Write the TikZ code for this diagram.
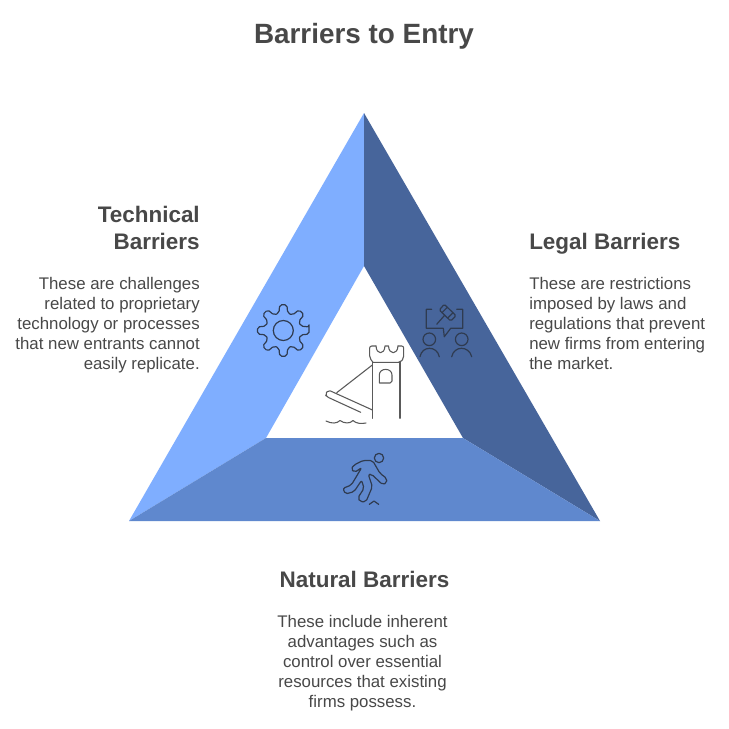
\documentclass[tikz,border=0pt]{standalone}
\usepackage{fontspec}
\setmainfont{Liberation Sans}
\definecolor{txt}{HTML}{484848}
\definecolor{leftc}{HTML}{7FAEFF}
\definecolor{rightc}{HTML}{47659B}
\definecolor{bottomc}{HTML}{5F88CE}
\definecolor{iconc}{HTML}{2F3B50}
\definecolor{towerc}{HTML}{5A5A5A}
\tikzset{
  titletext/.style={text=txt,font=\fontsize{20.9}{26}\selectfont\bfseries,inner sep=0pt},
  headtext/.style={text=txt,font=\fontsize{16.85}{20.25}\selectfont\bfseries,inner sep=0pt},
  bodytext/.style={text=txt,font=\fontsize{12.62}{15}\selectfont,inner sep=0pt},
  iconline/.style={draw=iconc,line width=0.9pt,line join=round,line cap=round},
  towerline/.style={draw=towerc,line width=0.8pt,line join=round,line cap=round},
}
\begin{document}
\begin{tikzpicture}[x=0.75pt,y=-0.75pt]
\useasboundingbox (0,0) rectangle (729,729);
\fill[white] (0,0) rectangle (729,729);
% triangle
\coordinate (apex) at (364,113);
\coordinate (br) at (600,521);
\coordinate (bl) at (129,521);
\coordinate (itop) at (364,266);
\coordinate (ir) at (463,438);
\coordinate (il) at (266,438);
\fill[leftc] (apex) -- (itop) -- (il) -- (bl) -- cycle;
\fill[rightc] (apex) -- (br) -- (ir) -- (itop) -- cycle;
\fill[bottomc] (bl) -- (il) -- (ir) -- (br) -- cycle;
% texts
\node[titletext] (title) at (364,36) {Barriers to Entry};
\node[headtext,anchor=north east,align=right] (techhead) at (200,206) {Technical\\Barriers};
\node[bodytext,anchor=north east,align=right] (techbody) at (200,277.5) {These are challenges\\related to proprietary\\technology or processes\\that new entrants cannot\\easily replicate.};
\node[headtext,anchor=north west,align=left] (leghead) at (529,233) {Legal Barriers};
\node[bodytext,anchor=north west,align=left] (legbody) at (529,277.5) {These are restrictions\\imposed by laws and\\regulations that prevent\\new firms from entering\\the market.};
\node[headtext] (nathead) at (364.5,579.5) {Natural Barriers};
\node[bodytext,anchor=north,align=center] (natbody) at (362.5,615.5) {These include inherent\\advantages such as\\control over essential\\resources that existing\\firms possess.};
% gear
\begin{scope}[shift={(283.3,330.5)}]
\draw[iconline] (0,0) circle (10);
\draw[iconline,rounded corners=1.5pt] (-8:26)
  \foreach \a in {0,45,...,315} {
    -- (\a+8:26) -- (\a+14:18) -- (\a+31:18) -- (\a+37:26)
  } -- cycle;
\end{scope}
% legal icon
\draw[iconline] (431.7,309.3) -- (426.3,309.3) -- (426.3,328.3) -- (443.3,328.3) -- (444.3,336.7) -- (450.7,328.3) -- (462.7,328.3) -- (462.7,309.3) -- (456.7,309.3);
\draw[iconline,rounded corners=1pt] (444.3,304.3) -- (456,315.7) -- (450.7,321) -- (439.3,310) -- cycle;
\draw[iconline] (447.3,307.3) -- (441.9,312.7);
\draw[iconline] (453,312.8) -- (447.7,318);
\draw[iconline] (436.7,324.3) -- (444.6,315.3);
\draw[iconline] (429.3,339.3) circle (6.3);
\draw[iconline] (461.7,339.3) circle (6.3);
\draw[iconline] (420,356.7) .. controls (422,345.5) and (437,345.5) .. (439.3,356.7);
\draw[iconline] (451.7,356.7) .. controls (454,345.5) and (469,345.5) .. (471.7,356.7);
% runner
\begin{scope}[shift={(330,445)},xscale=1/3,yscale=1/3]
\draw[iconline] (147,39) circle (14);
\draw[iconline,rounded corners=1.5pt] (63,72) -- (72,60) -- (100,46) -- (128,47) -- (150,85) -- (170,100) -- (170,114) -- (158,119) -- (125,88) -- (115,88) -- (127,125) -- (108,170) -- (90,170) -- (84,158) -- (102,130) -- (95,106) -- (72,140) -- (46,147) -- (39,130) -- (64,120) -- (95,68) -- (74,82) -- cycle;
\draw[iconline] (118,178) -- (132,168) -- (146,178);
\end{scope}
% tower
\draw[towerline,rounded corners=1.5pt] (373,362.3) -- (369.7,358) -- (369.7,346) -- (376,346);
\draw[towerline] (376,346) .. controls (376.5,355) and (384.5,355) .. (385,346) -- (388.5,346) .. controls (389,355) and (397.5,355) .. (398,346);
\draw[towerline,rounded corners=1.5pt] (398,346) -- (403.7,346) -- (403.7,358) -- (400.5,362.3) -- (373,362.3);
\draw[towerline] (372.7,362.3) -- (372.7,418.3) (400,362.3) -- (400,418.3);
\draw[towerline] (379.3,383) -- (379.3,375) .. controls (379.3,367.5) and (392,367.5) .. (392,375) -- (392,381) -- (390,383) -- cycle;
\draw[towerline] (372.3,365) -- (336.7,392.7);
\draw[towerline,rounded corners=1.5pt] (372.5,410) -- (328.3,390) -- (325.3,394.5) -- (326.7,396.7) -- (360.7,412.3);
\draw[towerline] (326,421) .. controls (332,424) and (337,423.5) .. (340,420.5) .. controls (344,423.5) and (350,424) .. (353,420.5) .. controls (356,423.5) and (361,424) .. (366,423);
\end{tikzpicture}
\end{document}
